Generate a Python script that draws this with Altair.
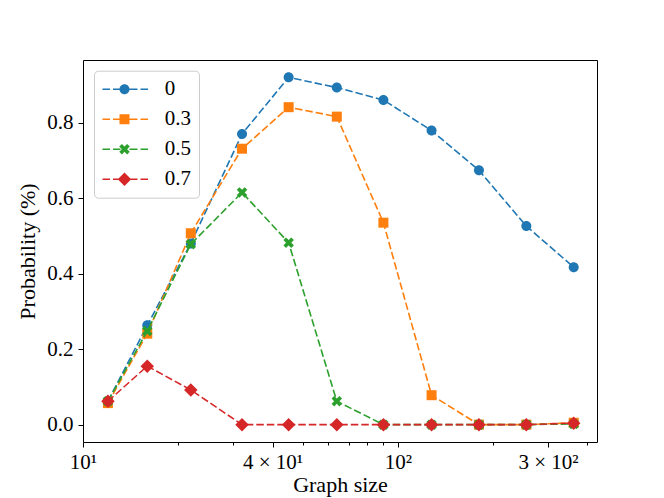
import altair as alt
import numpy as np
import pandas as pd

# ---------------- data ----------------
graph_size = [12, 16, 22, 32, 45, 64, 90, 128, 181, 256, 362]
series_names = ["0", "0.3", "0.5", "0.7"]
prob_0 = [0.062, 0.263, 0.480, 0.770, 0.920, 0.893, 0.860, 0.779, 0.674, 0.526, 0.417]
prob_03 = [0.057, 0.241, 0.507, 0.731, 0.841, 0.816, 0.535, 0.078, 0.000, 0.000, 0.005]
prob_05 = [0.062, 0.248, 0.478, 0.615, 0.482, 0.062, 0.000, 0.000, 0.000, 0.000, 0.002]
prob_07 = [0.062, 0.155, 0.092, 0.000, 0.000, 0.000, 0.000, 0.000, 0.000, 0.000, 0.004]
series_values = [prob_0, prob_03, prob_05, prob_07]
colors = ["#1f77b4", "#ff7f0e", "#2ca02c", "#d62728"]

x_tick_values = [10, 20, 30, 40, 50, 60, 70, 80, 90, 100, 200, 300, 400]
x_tick_labels = ["10¹", "", "", "4 × 10¹", "", "", "", "", "", "10²", "", "3 × 10²", ""]
y_tick_values = [0.0, 0.2, 0.4, 0.6, 0.8]

FONT = "Liberation Serif"

rows = []
for name, vals in zip(series_names, series_values):
    for gs, v in zip(graph_size, vals):
        rows.append({"series": name, "size": gs, "prob": v})
df = pd.DataFrame(rows)

# matplotlib-like automatic limits (5% margins; log space for x)
lx = np.log10(graph_size)
mx = 0.05 * (lx.max() - lx.min())
x_domain = [min(10.0, float(10 ** (lx.min() - mx))), float(10 ** (lx.max() + mx))]
all_vals = np.concatenate([np.array(v) for v in series_values])
my = 0.05 * (all_vals.max() - all_vals.min())
y_domain = [float(all_vals.min() - my), float(all_vals.max() + my)]

# ---------------- marker shapes (SVG paths) ----------------
def rect(x1, x2, h):
    return f"M{x1},{-h}L{x2},{-h}L{x2},{h}L{x1},{h}Z"

circle_p = "M1,0A1,1 0 1,1 -1,0A1,1 0 1,1 1,0Z"
square_p = "M-1,-1L1,-1L1,1L-1,1Z"
diamond_p = "M0,-1.35L1.35,0L0,1.35L-1.35,0Z"
plus = np.array([(-1, -3), (1, -3), (1, -1), (3, -1), (3, 1), (1, 1),
                 (1, 3), (-1, 3), (-1, 1), (-3, 1), (-3, -1), (-1, -1)], float)
L = 1.05 * np.sqrt(2) * 0.75
plus = plus / 3.0 * L
ang = np.deg2rad(45)
rot = np.array([[np.cos(ang), -np.sin(ang)], [np.sin(ang), np.cos(ang)]])
xpts = plus @ rot.T
x_p = "M" + "L".join(f"{a:.3f},{b:.3f}" for a, b in xpts) + "Z"
marker_paths = [circle_p, square_p, x_p, diamond_p]

dash_segments = [(-4.4, -2.9), (-2.3, -0.8), (1.0, 2.6), (3.2, 4.7)]
dash_p = "".join(rect(a, b, 0.16) for a, b in dash_segments)
legend_paths = [dash_p + p for p in marker_paths]

# ---------------- encodings ----------------
label_expr = " : ".join(
    f"datum.value == {v} ? '{t}'" for v, t in zip(x_tick_values, x_tick_labels) if t
) + " : ''"
labeled = [v for v, t in zip(x_tick_values, x_tick_labels) if t]
tick_test = "indexof([" + ",".join(str(v) for v in labeled) + "], datum.value) >= 0"

x_enc = alt.X(
    "size:Q",
    scale=alt.Scale(type="log", domain=x_domain, nice=False, zero=False),
    axis=alt.Axis(
        title="Graph size",
        values=x_tick_values,
        labelExpr=label_expr,
        tickSize={"condition": {"test": tick_test, "value": 5}, "value": 3},
        labelPadding=4,
        titlePadding=2,
        labelFlush=False,
        labelOverlap=False,
    ),
)
y_enc = alt.Y(
    "prob:Q",
    scale=alt.Scale(domain=y_domain, nice=False, zero=False),
    axis=alt.Axis(
        title="Probability (%)",
        values=y_tick_values,
        format=".1f",
        tickSize=5,
        labelPadding=5,
        titlePadding=7,
    ),
)
color_scale = alt.Scale(domain=series_names, range=colors)

layers = []
for name, shp, col in zip(series_names, marker_paths, colors):
    base = alt.Chart(df).transform_filter(alt.datum.series == name)
    line = base.mark_line(strokeDash=[7.5, 3], strokeWidth=1.6, color=col).encode(
        x=x_enc, y=y_enc,
    )
    pts = base.mark_point(filled=True, opacity=1, size=100, shape=shp, color=col).encode(
        x=x_enc, y=y_enc,
    )
    layers += [line, pts]

legend = alt.Legend(
    title=None,
    orient="none",
    legendX=11,
    legendY=10.7,
    padding=8,
    fillColor="rgba(255,255,255,0.8)",
    strokeColor="#cccccc",
    cornerRadius=4,
    symbolSize=100,
    symbolOffset=12,
    symbolStrokeWidth=0,
    symbolOpacity=1,
    labelOffset=29.7,
    rowPadding=8,
    labelFontSize=21,
    labelFont=FONT,
    labelColor="black",
)
legend_layer = alt.Chart(df).transform_filter("false").mark_point(
    filled=True, opacity=1
).encode(
    x=x_enc, y=y_enc,
    color=alt.Color("series:N", scale=color_scale, legend=legend),
    shape=alt.Shape("series:N", scale=alt.Scale(domain=series_names, range=legend_paths),
                    legend=legend),
)
layers.append(legend_layer)

chart = alt.layer(*layers).properties(
    width=514,
    height=382,
    padding={"left": 75, "top": 52, "right": 40, "bottom": 56},
    autosize=alt.AutoSizeParams(type="none"),
).configure(
    font=FONT,
).configure_view(
    stroke="black", strokeWidth=1,
).configure_axis(
    labelFont=FONT, titleFont=FONT,
    labelFontSize=21, titleFontSize=22, titleFontWeight="normal",
    labelColor="black", titleColor="black",
    tickColor="black", tickWidth=1,
    domain=False, grid=False,
)

chart.save("out.html", embed_options={"renderer": "svg", "actions": False})
